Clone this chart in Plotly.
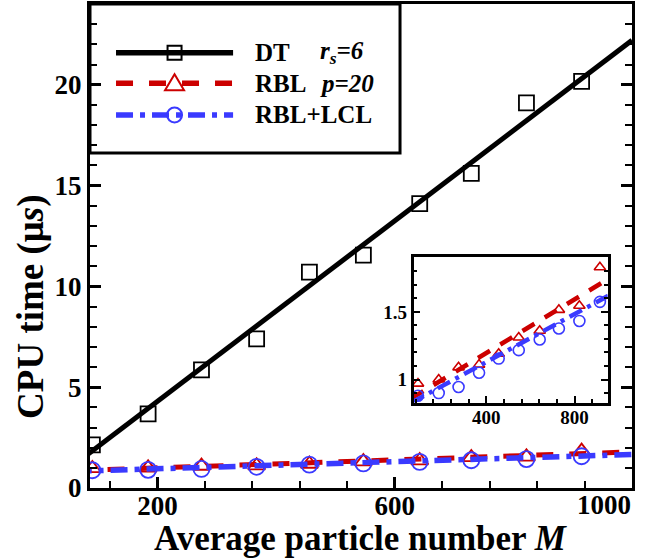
import plotly.graph_objects as go

# ---------------- data ----------------
M = [90, 184, 274, 367, 456, 547, 642, 729, 822, 915]
dt_time = [2.14, 3.68, 5.86, 7.39, 10.7, 11.55, 14.1, 15.6, 19.1, 20.16]
rbl_time = [0.97, 1.00, 1.09, 1.11, 1.19, 1.31, 1.36, 1.515, 1.545, 1.83]
rbl_lcl_time = [0.88, 0.90, 0.945, 1.05, 1.155, 1.217, 1.296, 1.377, 1.433, 1.574]

fit_M = [60, 1000]
dt_fit = [1.17, 22.2]
rbl_fit = [0.86, 1.79]
rbl_lcl_fit = [0.829, 1.66]

x_tickvals = [200, 600]
x_ticktext = ["200", "600"]
x_last_tick = 1000
x_last_label = "1000"

legend_names = ["DT", "RBL", "RBL+LCL"]
legend_params = ["<i>r<sub>s</sub>=6</i>", "<i>p=20</i>", ""]

# ---------------- styles ----------------
BLACK = "#000000"
RED = "#CC0000"
BLUE = "#3A3AFF"
FONT = "Liberation Serif"
RED_DASH = "17px,16px"
BLUE_DASH = "17px,7px,5px,7px"

fig = go.Figure()

# main plot
fig.add_trace(go.Scatter(x=fit_M, y=dt_fit, mode="lines",
                         line=dict(color=BLACK, width=5), xaxis="x", yaxis="y"))
fig.add_trace(go.Scatter(x=M, y=dt_time, mode="markers",
                         marker=dict(symbol="square-open", size=15, color=BLACK,
                                     line=dict(width=1.8, color=BLACK)),
                         xaxis="x", yaxis="y"))
fig.add_trace(go.Scatter(x=fit_M, y=rbl_fit, mode="lines",
                         line=dict(color=RED, width=5, dash=RED_DASH), xaxis="x", yaxis="y"))
fig.add_trace(go.Scatter(x=M, y=rbl_time, mode="markers",
                         marker=dict(symbol="triangle-up-open", size=15, color=RED,
                                     line=dict(width=1.8, color=RED)),
                         xaxis="x", yaxis="y"))
fig.add_trace(go.Scatter(x=fit_M, y=rbl_lcl_fit, mode="lines",
                         line=dict(color=BLUE, width=5.5, dash=BLUE_DASH), xaxis="x", yaxis="y"))
fig.add_trace(go.Scatter(x=M, y=rbl_lcl_time, mode="markers",
                         marker=dict(symbol="circle-open", size=16, color=BLUE,
                                     line=dict(width=1.8, color=BLUE)),
                         xaxis="x", yaxis="y"))

# inset
fig.add_trace(go.Scatter(x=fit_M, y=rbl_fit, mode="lines",
                         line=dict(color=RED, width=4.5, dash="14px,12px"), xaxis="x2", yaxis="y2"))
fig.add_trace(go.Scatter(x=M, y=rbl_time, mode="markers",
                         marker=dict(symbol="triangle-up-open", size=10, color=RED,
                                     line=dict(width=1.6, color=RED)),
                         xaxis="x2", yaxis="y2"))
fig.add_trace(go.Scatter(x=fit_M, y=rbl_lcl_fit, mode="lines",
                         line=dict(color=BLUE, width=4.5, dash="14px,6px,4px,6px"), xaxis="x2", yaxis="y2"))
fig.add_trace(go.Scatter(x=M, y=rbl_lcl_time, mode="markers",
                         marker=dict(symbol="circle-open", size=11, color=BLUE,
                                     line=dict(width=1.6, color=BLUE)),
                         xaxis="x2", yaxis="y2"))

tick_font = dict(family=FONT, size=27, color=BLACK, weight="bold")
inset_font = dict(family=FONT, size=19, color=BLACK, weight="bold")

common = dict(showgrid=False, zeroline=False, showline=True, linecolor=BLACK,
              ticks="inside", tickcolor=BLACK, automargin=False)

fig.update_layout(
    width=659, height=558,
    margin=dict(l=90, r=27, t=4, b=70),
    plot_bgcolor="white", paper_bgcolor="white",
    showlegend=False,
    xaxis=dict(domain=[0, 1], range=[86, 1000], tickmode="array", tickvals=x_tickvals,
               ticktext=x_ticktext, ticklabelstandoff=-8,
               linewidth=3, mirror=True, ticklen=11, tickwidth=2.5, tickfont=tick_font,
               minor=dict(tickmode="linear", tick0=200, dtick=80, ticks="inside",
                          ticklen=7, tickwidth=2, tickcolor=BLACK),
               anchor="y", **common),
    yaxis=dict(domain=[0, 1], range=[0, 24], tickmode="linear", tick0=0, dtick=5,
               linewidth=3, mirror="ticks", ticklen=11, tickwidth=2.5, tickfont=tick_font,
               minor=dict(tickmode="linear", tick0=0, dtick=1, ticks="inside",
                          ticklen=7, tickwidth=2, tickcolor=BLACK),
               anchor="x", **common),
    xaxis2=dict(domain=[0.597, 0.955], range=[70, 950], tickmode="linear", tick0=400, dtick=400,
                ticklabelstandoff=-4,
                linewidth=2.5, mirror=True, ticklen=7, tickwidth=2, tickfont=inset_font,
                minor=dict(tickmode="linear", tick0=400, dtick=80, ticks="inside",
                           ticklen=4, tickwidth=1.5, tickcolor=BLACK),
                anchor="y2", **common),
    yaxis2=dict(domain=[0.1766, 0.4777], range=[0.83, 1.907], tickmode="linear", tick0=1, dtick=0.5,
                linewidth=2.5, mirror="ticks", ticklen=7, tickwidth=2, tickfont=inset_font,
                minor=dict(tickmode="linear", tick0=1, dtick=0.1, ticks="inside",
                           ticklen=4, tickwidth=1.5, tickcolor=BLACK),
                anchor="x2", **common),
)

# last x tick label, kept inside the frame as in the original
fig.add_annotation(text=x_last_label, xref="x", yref="paper", x=x_last_tick, y=-0.036,
                   xanchor="right", yanchor="middle", showarrow=False, xshift=1,
                   font=tick_font)

# axis titles
fig.add_annotation(text="Average particle number <i>M</i>", xref="paper", yref="paper",
                   x=0.5, y=-0.104, xanchor="center", yanchor="middle", showarrow=False,
                   font=dict(family=FONT, size=35, color=BLACK, weight="bold"))
fig.add_annotation(text="CPU time (μ<i>s</i>)", xref="paper", yref="paper",
                   x=-0.11, y=0.375, xanchor="center", yanchor="middle", showarrow=False,
                   textangle=-90,
                   font=dict(family=FONT, size=37, color=BLACK, weight="bold"))

# ---------------- custom legend ----------------
fig.add_shape(type="rect", xref="paper", yref="paper", x0=0, x1=0.572, y0=0.692, y1=1.0,
              line=dict(color=BLACK, width=3), fillcolor="white", layer="below")

rows = [0.8994, 0.8362, 0.7707]
lx0, lx1, lmx = 0.048, 0.264, 0.156
colors = [BLACK, RED, BLUE]
dashes = ["solid", RED_DASH, BLUE_DASH]
for yy, c, d in zip(rows, colors, dashes):
    fig.add_shape(type="line", xref="paper", yref="paper", x0=lx0, x1=lx1, y0=yy, y1=yy,
                  line=dict(color=c, width=5.5, dash=d))

fig.add_shape(type="rect", xref="paper", yref="paper", xsizemode="pixel", ysizemode="pixel",
              xanchor=lmx, yanchor=rows[0], x0=-7, x1=7, y0=-7, y1=7,
              line=dict(color=BLACK, width=2), fillcolor="rgba(0,0,0,0)")
fig.add_shape(type="path", xref="paper", yref="paper", xsizemode="pixel", ysizemode="pixel",
              xanchor=lmx, yanchor=rows[1], path="M-9.5,-7 L9.5,-7 L0,9 Z",
              line=dict(color=RED, width=2), fillcolor="rgba(0,0,0,0)")
fig.add_shape(type="circle", xref="paper", yref="paper", xsizemode="pixel", ysizemode="pixel",
              xanchor=lmx, yanchor=rows[2], x0=-7.5, x1=7.5, y0=-7.5, y1=7.5,
              line=dict(color=BLUE, width=2), fillcolor="rgba(0,0,0,0)")

for yy, name, par in zip(rows, legend_names, legend_params):
    fig.add_annotation(text=name, xref="paper", yref="paper", x=0.3007, y=yy,
                       xanchor="left", yanchor="middle", showarrow=False,
                       font=dict(family=FONT, size=25, color=BLACK, weight="bold"))
    if par:
        fig.add_annotation(text=par, xref="paper", yref="paper", x=0.4207, y=yy,
                           xanchor="left", yanchor="middle", showarrow=False,
                           font=dict(family=FONT, size=25, color=BLACK, weight="bold"))

fig.write_html("out.html", config={"displayModeBar": False},
               post_script="document.body.style.margin='0';document.body.style.padding='0';")
